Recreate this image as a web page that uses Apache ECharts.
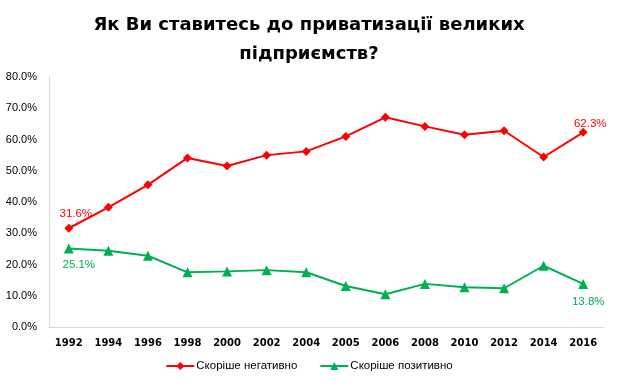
<!DOCTYPE html>
<html><head><meta charset="utf-8">
<script src="https://cdn.jsdelivr.net/npm/echarts@6/dist/echarts.min.js"></script>
<style>html,body{margin:0;padding:0;background:#fff}#c{width:618px;height:387px}</style>
</head><body><div id="c"></div>
<script>
const categories = ['1992','1994','1996','1998','2000','2002','2004','2005','2006','2008','2010','2012','2014','2016'];
const negative = [31.6,38.3,45.5,54.1,51.5,55.0,56.2,61.0,67.1,64.2,61.5,62.8,54.4,62.3];
const positive = [25.1,24.4,22.8,17.5,17.8,18.2,17.5,13.1,10.5,13.8,12.7,12.4,19.6,13.8];
const seriesNames = ['Скоріше негативно','Скоріше позитивно'];
const titleText = 'Як Ви ставитесь до приватизації великих\nпідприємств?';

const lastIdx = categories.length - 1;
function withLabels(arr, color, pos, offsets) {
  return arr.map((v, i) => {
    const o = {value: v};
    if (offsets[i]) {
      o.label = {show: true, position: pos, offset: offsets[i], color: color,
        fontFamily: 'Liberation Sans', fontSize: 11.5, formatter: p => p.value.toFixed(1) + '%'};
    }
    return o;
  });
}
const negOffsets = {}; negOffsets[0] = [7, 1]; negOffsets[lastIdx] = [7, 7];
const posOffsets = {}; posOffsets[0] = [10, 0]; posOffsets[lastIdx] = [5, 2];

const chart = echarts.init(document.getElementById('c'));
chart.setOption({
  animation: false,
  title: {
    text: titleText, left: 'center', top: 6,
    textStyle: {fontFamily: 'DejaVu Sans', fontWeight: 'bold', fontSize: 18, color: '#000', lineHeight: 29}
  },
  grid: {left: 49, right: 15, top: 77, bottom: 60, containLabel: false},
  legend: {
    bottom: 10, left: 'center', itemWidth: 28, itemHeight: 10, itemGap: 22,
    textStyle: {fontFamily: 'Liberation Sans', fontSize: 11.5, color: '#000', padding: [0,0,0,-3]},
    data: seriesNames
  },
  xAxis: {
    type: 'category', data: categories, boundaryGap: true,
    axisLine: {lineStyle: {color: '#d9d9d9', width: 1}},
    axisTick: {show: false},
    axisLabel: {interval: 0, fontFamily: 'DejaVu Sans', fontWeight: 'bold', fontSize: 10, color: '#000', margin: 11}
  },
  yAxis: {
    type: 'value', min: 0, max: 80, interval: 10,
    axisLine: {show: true, lineStyle: {color: '#d9d9d9', width: 1}},
    axisTick: {show: false},
    splitLine: {show: false},
    axisLabel: {fontFamily: 'Liberation Sans', fontSize: 11, color: '#000', margin: 12,
      formatter: v => v.toFixed(1) + '%'}
  },
  series: [
    {
      name: seriesNames[0], type: 'line', data: withLabels(negative, '#ff0000', 'top', negOffsets),
      symbol: 'diamond', symbolSize: 9,
      lineStyle: {color: '#ff0000', width: 2},
      itemStyle: {color: '#ff0000'},
      label: {show: false}
    },
    {
      name: seriesNames[1], type: 'line', data: withLabels(positive, '#00b050', 'bottom', posOffsets),
      symbol: 'triangle', symbolSize: 10,
      lineStyle: {color: '#00b050', width: 2},
      itemStyle: {color: '#00b050'},
      label: {show: false}
    }
  ]
});
</script></body></html>
